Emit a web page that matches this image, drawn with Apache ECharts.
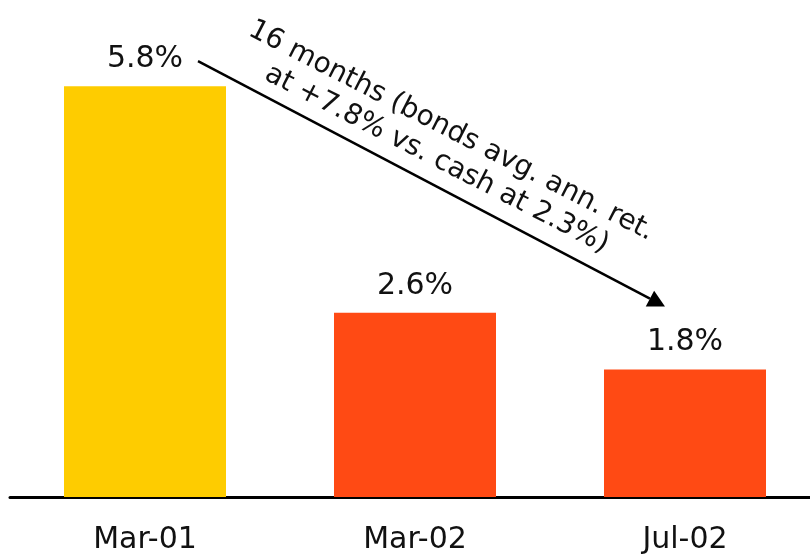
<!DOCTYPE html>
<html>
<head>
<meta charset="utf-8">
<script src="https://cdn.jsdelivr.net/npm/echarts@6/dist/echarts.min.js"></script>
<style>
  html, body { margin: 0; padding: 0; background: #fff; }
  #chart { width: 810px; height: 555px; }
</style>
</head>
<body>
<div id="chart"></div>
<script>
const categories = ["Mar-01", "Mar-02", "Jul-02"];
const values = [5.8, 2.6, 1.8];
const barColors = ["#FECC00", "#FF4A14", "#FF4A14"];
const noteLines = ["16 months (bonds avg. ann. ret.", "at +7.8% vs. cash at 2.3%)"];

const FONT = "DejaVu Sans";
const chart = echarts.init(document.getElementById("chart"));

chart.setOption({
  animation: false,
  grid: { left: 10, width: 810, top: 72, bottom: 58, outerBoundsMode: "none", containLabel: false },
  xAxis: {
    type: "category",
    data: categories,
    axisLine: { lineStyle: { color: "#000", width: 3 } },
    axisTick: { show: false },
    axisLabel: { color: "#111", fontSize: 30, fontFamily: FONT, margin: 28 }
  },
  yAxis: {
    type: "value",
    min: 0,
    max: 6,
    show: false,
    splitLine: { show: false }
  },
  series: [
    {
      type: "bar",
      barWidth: "60%",
      data: values.map((v, i) => ({ value: v, itemStyle: { color: barColors[i] } })),
      label: {
        show: true,
        position: "top",
        distance: 12,
        color: "#111",
        fontSize: 30,
        fontFamily: FONT,
        formatter: p => p.value.toFixed(1) + "%"
      }
    }
  ]
});

// annotation arrow: from right of first label to above the last label
const p0 = chart.convertToPixel({ seriesIndex: 0 }, [0, values[0]]);
const p2 = chart.convertToPixel({ seriesIndex: 0 }, [2, values[2]]);
const start = [p0[0] + 53, p0[1] - 25];
const end = [p2[0] - 20, p2[1] - 63];
const ang = Math.atan2(end[1] - start[1], end[0] - start[0]);
const head = 17, half = 9;
const ux = Math.cos(ang), uy = Math.sin(ang);
const base = [end[0] - ux * head, end[1] - uy * head];
const mid = [(start[0] + end[0]) / 2, (start[1] + end[1]) / 2];
const nx = uy, ny = -ux; // normal toward upper right
const off = 40;

chart.setOption({
  graphic: [
    {
      type: "line",
      shape: { x1: start[0], y1: start[1], x2: base[0], y2: base[1] },
      style: { stroke: "#000", lineWidth: 2.5 }
    },
    {
      type: "polygon",
      shape: {
        points: [
          end,
          [base[0] + nx * half, base[1] + ny * half],
          [base[0] - nx * half, base[1] - ny * half]
        ]
      },
      style: { fill: "#000" }
    },
    {
      type: "text",
      x: mid[0] + nx * off - ux * 7,
      y: mid[1] + ny * off - uy * 7,
      rotation: -(ang - 0.01),
      style: {
        text: noteLines.join("\n"),
        fill: "#111",
        font: "28px '" + FONT + "'",
        align: "center",
        verticalAlign: "middle",
        lineHeight: 32
      }
    }
  ]
});
</script>
</body>
</html>
